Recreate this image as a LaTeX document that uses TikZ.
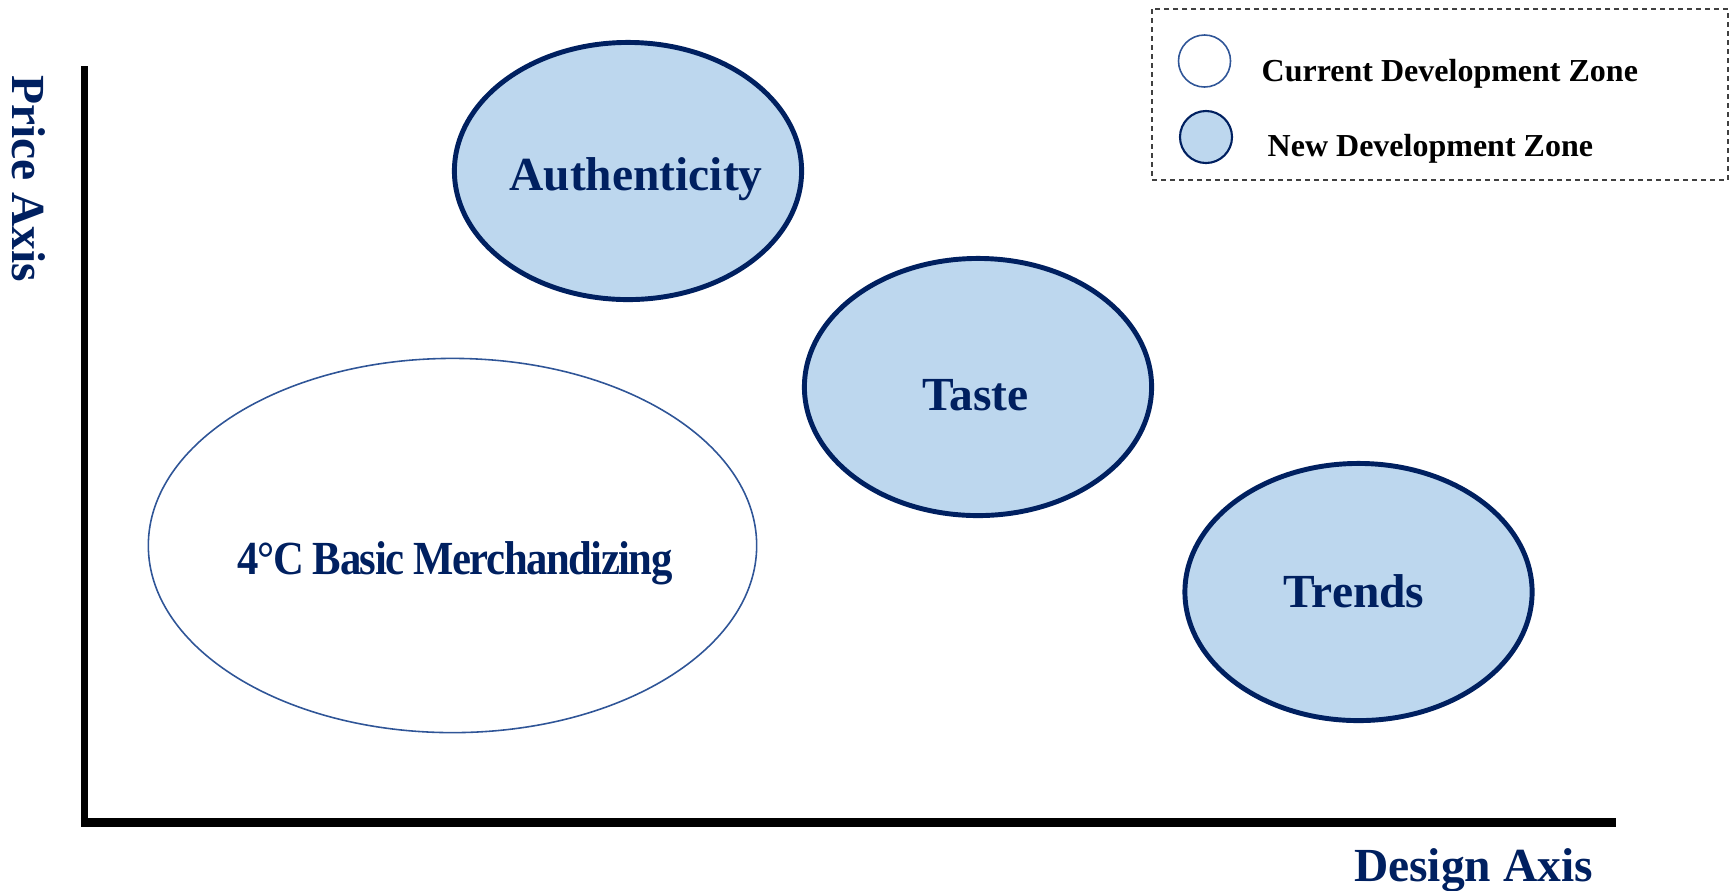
\documentclass[tikz,border=0pt]{standalone}
\usepackage{fontspec}
\setmainfont{Liberation Serif}
\usepackage{tikz}
\usetikzlibrary{shapes.geometric,positioning}
\definecolor{navy}{HTML}{002060}
\definecolor{steel}{HTML}{2F5597}
\definecolor{skyfill}{HTML}{BDD7EE}
\definecolor{bk70}{HTML}{404040}
\tikzset{
  newzone/.style={
    ellipse, draw=navy, fill=skyfill, line width=1.4pt,
    minimum width=3.47cm, minimum height=2.57cm,
    inner sep=0pt
  },
  curzone/.style={
    ellipse, draw=steel, line width=0.45pt,
    minimum width=6.08cm, minimum height=3.74cm,
    inner sep=0pt
  },
  zonelabel/.style={
    font=\fontsize{13.5}{16}\selectfont\bfseries, text=navy,
    inner sep=0pt, text height=8.9pt, text depth=0pt
  },
  axisline/.style={line width=#1, color=black},
  axisline/.default=0.07cm,
  legendbox/.style={draw=bk70, dash pattern=on 0.05cm off 0.04cm,
    line width=0.4pt},
  legendkey/.style={circle, draw=#1, line width=0.45pt,
    minimum size=0.52cm, inner sep=0pt},
  legendtext/.style={font=\fontsize{9.1}{11}\selectfont\bfseries,
    anchor=west, inner sep=0pt, text height=6pt, text depth=0pt},
}

\begin{document}
\begin{tikzpicture}[x=0.01cm, y=-0.01cm]
  \useasboundingbox (0,0) rectangle (1731,890);
  \coordinate (ytop) at (84.5,66);
  \coordinate (origin) at (84.5,822);
  \coordinate (xend) at (1616,822);
  \draw[axisline] (ytop) -- ([yshift=-0.045cm]origin);
  \draw[axisline=0.09cm] ([xshift=-0.035cm]origin) -- (xend);
  \node[zonelabel, rotate=-90] (price) at (28.5,178.5) {Price Axis};
  \node[zonelabel] (design) at (1473.5,866) {Design Axis};

  \node[curzone] (basic) at (452.5,545.5) {};
  \node[newzone] (auth) at (628,171) {};
  \node[newzone] (taste) at (978,387) {};
  \node[newzone] (trends) at (1358.5,592) {};
  \node[zonelabel] at ([xshift=0.025cm, yshift=-0.13cm]basic) (basictext)
    {\scalebox{0.9}[1]{\addfontfeatures{LetterSpace=-3.5}4°C Basic Merchandizing}};
  \node[zonelabel] at ([xshift=0.08cm, yshift=-0.035cm]auth) (authtext) {Authenticity};
  \node[zonelabel] at ([xshift=-0.025cm, yshift=-0.08cm]taste) (tastetext) {Taste};
  \node[zonelabel] at ([xshift=-0.045cm]trends) (trendstext) {Trends};

  \draw[legendbox] (1152,9) rectangle (1728,180);
  \node[legendkey=steel] (curkey) at (1204.5,61) {};
  \node[legendkey=navy, fill=skyfill, line width=0.6pt] (newkey) at (1206,137) {};
  \node[legendtext] (curtext) at (1261,70.5) {Current Development Zone};
  \node[legendtext] (newtext) at (1267,146) {New Development Zone};
\end{tikzpicture}
\end{document}
